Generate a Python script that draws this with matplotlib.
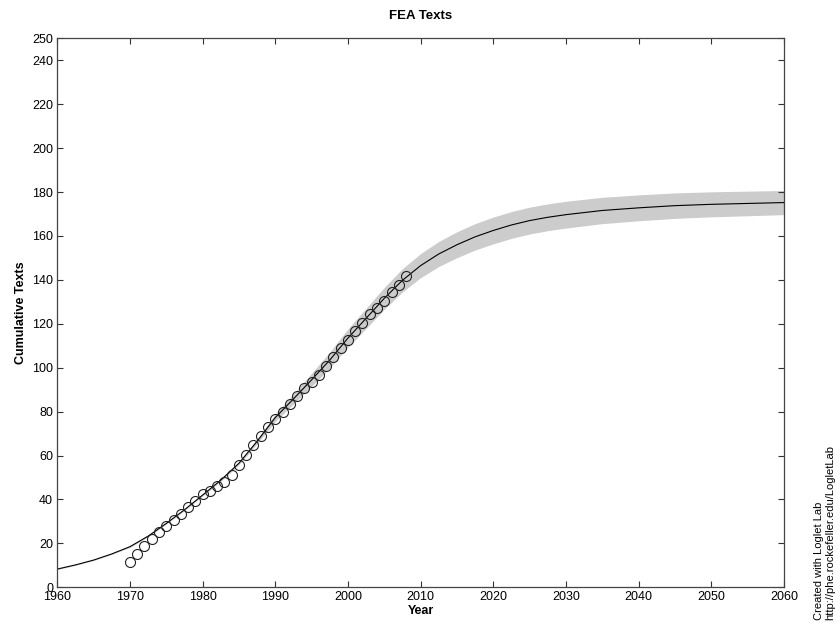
import matplotlib
matplotlib.use("Agg")
import matplotlib.pyplot as plt

plt.rcParams['font.family'] = ['Liberation Sans', 'DejaVu Sans']

# observed cumulative texts, one per year
obs_years = list(range(1970, 2009))
obs_values = [11.6, 15.2, 18.7, 22.2, 25.1, 27.7, 30.7, 33.6, 36.7, 39.3,
              42.3, 43.8, 46.1, 48.1, 51.1, 55.6, 60.1, 64.8, 68.9, 73.2,
              76.6, 79.9, 83.4, 87.2, 90.6, 93.3, 96.7, 100.6, 104.7, 108.8,
              112.6, 116.9, 120.4, 124.5, 127.2, 130.6, 134.4, 137.8, 141.6]

# fitted logistic curve
fit_years = [1960, 1962.5, 1965, 1967.5, 1970, 1972.5, 1975, 1977.5, 1980, 1982.5,
             1985, 1987.5, 1990, 1992.5, 1995, 1997.5, 2000, 2002.5, 2005, 2007.5,
             2010, 2012.5, 2015, 2017.5, 2020, 2022.5, 2025, 2027.5, 2030, 2035,
             2040, 2045, 2050, 2055, 2060]
fit_values = [8.3, 10.2, 12.4, 15.2, 18.5, 23.3, 29.1, 35.3, 42.0, 48.8,
              56.5, 66.5, 77.3, 85.8, 94.5, 103.5, 113.5, 122.5, 131.6, 139.8,
              146.5, 151.8, 156.0, 159.6, 162.5, 165.0, 167.0, 168.5, 169.7, 171.6,
              172.8, 173.8, 174.4, 174.8, 175.2]
# half width of the grey confidence band
band_half = [0.2, 0.2, 0.2, 0.2, 0.3, 0.3, 0.3, 0.4, 0.4, 0.5,
             0.7, 1.1, 1.7, 2.3, 3.0, 3.6, 4.2, 4.6, 5.0, 5.3,
             5.5, 5.7, 5.9, 6.0, 6.1, 6.1, 6.1, 6.1, 6.1, 6.0,
             5.9, 5.8, 5.7, 5.6, 5.5]

x_ticks = list(range(1960, 2061, 10))
y_ticks = list(range(0, 241, 20)) + [250]

fig = plt.figure(figsize=(8.4, 6.28), dpi=100)
ax = fig.add_axes([0.0682, 0.0648, 0.8651, 0.8742])

lower = [v - h for v, h in zip(fit_values, band_half)]
upper = [v + h for v, h in zip(fit_values, band_half)]
ax.fill_between(fit_years, lower, upper, color='#cccccc', linewidth=0)
ax.plot(fit_years, fit_values, color='black', linewidth=0.8)
ax.plot(obs_years, obs_values, linestyle='none', marker='o', markersize=7.2,
        markerfacecolor='none', markeredgecolor='#222222', markeredgewidth=0.8)

ax.set_xlim(1960, 2060)
ax.set_ylim(0, 250)
ax.set_xticks(x_ticks)
ax.set_yticks(y_ticks)
ax.tick_params(direction='in', top=True, right=True, labelsize=9,
               length=4, width=0.8, colors='#333333', labelcolor='black', pad=3)
for s in ax.spines.values():
    s.set_color('#444444')
    s.set_linewidth(0.9)

ax.set_title('FEA Texts', fontsize=9.5, fontweight='bold', pad=14)
ax.set_xlabel('Year', fontsize=9, fontweight='bold', labelpad=1)
ax.set_ylabel('Cumulative Texts', fontsize=9, fontweight='bold', labelpad=4)

fig.text(0.975, 0.012, 'Created with Loglet Lab', rotation=90, fontsize=8,
         ha='center', va='bottom')
fig.text(0.988, 0.012, 'http://phe.rockefeller.edu/LogletLab', rotation=90,
         fontsize=8, ha='center', va='bottom')

fig.savefig('out.png', dpi=100)
